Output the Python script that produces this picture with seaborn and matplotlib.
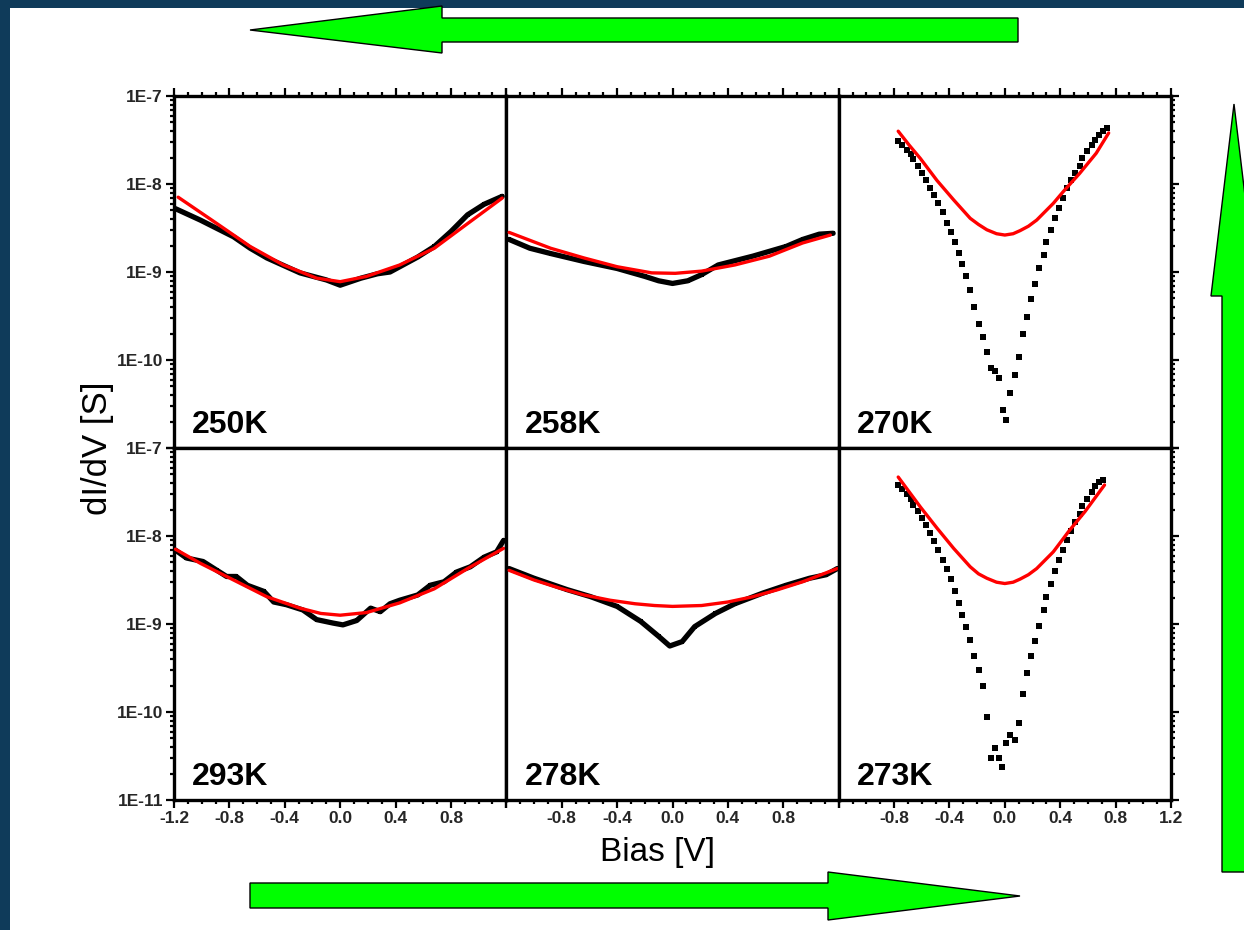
import numpy as np
import pandas as pd
import matplotlib
matplotlib.use('Agg')
import matplotlib.pyplot as plt
from matplotlib.patches import Polygon, Rectangle
from matplotlib.ticker import MultipleLocator, LogLocator, FuncFormatter, NullFormatter
import seaborn as sns

# ---- data (bias in V, log10 of dI/dV in S) ----
t250_v = [-1.19, -1.01, -0.77, -0.65, -0.53, -0.29, -0.10, 0.0, 0.15, 0.27, 0.36, 0.56, 0.68, 0.80, 0.92, 1.04, 1.17]
t250_g = [-8.28, -8.41, -8.60, -8.73, -8.84, -9.01, -9.09, -9.15, -9.07, -9.02, -9.00, -8.83, -8.71, -8.54, -8.35, -8.23, -8.14]
t250_fit_v = [-1.17, -0.89, -0.65, -0.41, -0.17, 0.0, 0.19, 0.43, 0.68, 0.92, 1.17]
t250_fit_g = [-8.15, -8.45, -8.71, -8.92, -9.07, -9.11, -9.05, -8.92, -8.73, -8.45, -8.16]

t258_v = [-1.18, -1.03, -0.88, -0.64, -0.40, -0.20, -0.10, 0.0, 0.11, 0.21, 0.33, 0.58, 0.82, 0.94, 1.06, 1.16]
t258_g = [-8.63, -8.73, -8.79, -8.88, -8.96, -9.05, -9.10, -9.13, -9.10, -9.03, -8.92, -8.82, -8.71, -8.63, -8.57, -8.56]
t258_fit_v = [-1.18, -0.88, -0.64, -0.40, -0.15, 0.02, 0.21, 0.45, 0.70, 0.94, 1.14]
t258_fit_g = [-8.55, -8.73, -8.84, -8.94, -9.01, -9.015, -8.99, -8.92, -8.82, -8.67, -8.58]

t270_v = [-0.77, -0.74, -0.71, -0.68, -0.66, -0.63, -0.60, -0.57, -0.54, -0.51,
          -0.48, -0.45, -0.42, -0.39, -0.36, -0.33, -0.31, -0.28, -0.25, -0.22,
          -0.19, -0.16, -0.13, -0.10, -0.07, -0.04, -0.01,
          0.01, 0.04, 0.07, 0.10, 0.13, 0.16, 0.19, 0.22, 0.25,
          0.28, 0.30, 0.33, 0.36, 0.39, 0.42, 0.45, 0.48, 0.51,
          0.54, 0.56, 0.59, 0.63, 0.65, 0.68, 0.71, 0.74]
t270_g = [-7.51, -7.56, -7.61, -7.66, -7.72, -7.80, -7.88, -7.96, -8.04, -8.13,
          -8.22, -8.32, -8.44, -8.54, -8.66, -8.78, -8.91, -9.05, -9.21, -9.40,
          -9.59, -9.74, -9.91, -10.09, -10.12, -10.21, -10.57,
          -10.68, -10.37, -10.17, -9.97, -9.70, -9.51, -9.31, -9.14, -8.96,
          -8.81, -8.66, -8.52, -8.39, -8.27, -8.16, -8.05, -7.96, -7.87,
          -7.79, -7.71, -7.63, -7.56, -7.50, -7.44, -7.40, -7.36]
t270_fit_v = [-0.77, -0.69, -0.61, -0.49, -0.37, -0.25, -0.19, -0.13, -0.06, 0.0, 0.06, 0.11, 0.17, 0.23, 0.35, 0.42, 0.54, 0.66, 0.75]
t270_fit_g = [-7.40, -7.56, -7.71, -7.96, -8.18, -8.39, -8.46, -8.52, -8.565, -8.58, -8.565, -8.53, -8.48, -8.41, -8.22, -8.09, -7.88, -7.65, -7.42]

t293_v = [-1.19, -1.11, -0.99, -0.89, -0.82, -0.75, -0.67, -0.55, -0.48, -0.39, -0.27, -0.17, -0.05, 0.02,
          0.12, 0.22, 0.29, 0.36, 0.43, 0.56, 0.65, 0.75, 0.84, 0.94, 1.04, 1.13, 1.18]
t293_g = [-8.16, -8.25, -8.29, -8.39, -8.46, -8.46, -8.56, -8.63, -8.75, -8.78, -8.84, -8.95, -8.99, -9.01,
          -8.96, -8.82, -8.86, -8.77, -8.73, -8.67, -8.56, -8.52, -8.41, -8.35, -8.24, -8.18, -8.05]
t293_fit_v = [-1.19, -1.01, -0.77, -0.53, -0.29, -0.14, 0.0, 0.19, 0.43, 0.68, 0.92, 1.18]
t293_fit_g = [-8.15, -8.31, -8.50, -8.69, -8.82, -8.88, -8.90, -8.87, -8.76, -8.60, -8.37, -8.14]

t278_v = [-1.18, -1.0, -0.76, -0.59, -0.40, -0.23, -0.10, -0.02, 0.07, 0.16, 0.31, 0.45, 0.65, 0.82, 0.99, 1.11, 1.19]
t278_g = [-8.37, -8.48, -8.61, -8.69, -8.80, -8.97, -9.14, -9.25, -9.20, -9.03, -8.88, -8.77, -8.65, -8.56, -8.48, -8.44, -8.37]
t278_fit_v = [-1.18, -1.0, -0.82, -0.64, -0.45, -0.27, -0.13, 0.0, 0.21, 0.40, 0.58, 0.76, 0.94, 1.19]
t278_fit_g = [-8.39, -8.50, -8.59, -8.67, -8.73, -8.77, -8.79, -8.80, -8.79, -8.75, -8.69, -8.61, -8.52, -8.37]

t273_v = [-0.77, -0.74, -0.71, -0.68, -0.66, -0.63, -0.60, -0.57, -0.54, -0.51,
          -0.48, -0.45, -0.42, -0.39, -0.36, -0.33, -0.31, -0.28, -0.25, -0.22,
          -0.19, -0.16, -0.13, -0.10, -0.07, -0.04, -0.02,
          0.01, 0.04, 0.07, 0.10, 0.13, 0.16, 0.19, 0.22, 0.25,
          0.28, 0.30, 0.33, 0.36, 0.39, 0.42, 0.45, 0.48, 0.51,
          0.54, 0.56, 0.59, 0.63, 0.65, 0.68, 0.71]
t273_g = [-7.42, -7.47, -7.52, -7.58, -7.65, -7.72, -7.80, -7.88, -7.97, -8.06,
          -8.16, -8.27, -8.38, -8.49, -8.62, -8.76, -8.90, -9.03, -9.18, -9.36,
          -9.52, -9.70, -10.06, -10.52, -10.41, -10.52, -10.62,
          -10.35, -10.26, -10.32, -10.12, -9.79, -9.56, -9.36, -9.19, -9.02,
          -8.84, -8.69, -8.54, -8.40, -8.27, -8.16, -8.04, -7.94, -7.84,
          -7.75, -7.66, -7.58, -7.50, -7.43, -7.39, -7.36]
t273_fit_v = [-0.77, -0.69, -0.61, -0.49, -0.37, -0.25, -0.19, -0.13, -0.06, 0.0, 0.06, 0.11, 0.17, 0.23, 0.35, 0.46, 0.58, 0.72]
t273_fit_g = [-7.33, -7.50, -7.67, -7.91, -8.14, -8.35, -8.43, -8.48, -8.525, -8.54, -8.525, -8.49, -8.44, -8.37, -8.18, -7.95, -7.72, -7.42]

# panel order: row, col, label, data, fit, sparse markers?
panels = [
    (0, 0, '250K', (t250_v, t250_g), (t250_fit_v, t250_fit_g), False),
    (0, 1, '258K', (t258_v, t258_g), (t258_fit_v, t258_fit_g), False),
    (0, 2, '270K', (t270_v, t270_g), (t270_fit_v, t270_fit_g), True),
    (1, 0, '293K', (t293_v, t293_g), (t293_fit_v, t293_fit_g), False),
    (1, 1, '278K', (t278_v, t278_g), (t278_fit_v, t278_fit_g), False),
    (1, 2, '273K', (t273_v, t273_g), (t273_fit_v, t273_fit_g), True),
]

sns.set_theme(style='ticks')
plt.rcParams['font.family'] = ['Liberation Sans', 'DejaVu Sans']
plt.rcParams['axes.unicode_minus'] = False

W, H = 1244, 930
fig = plt.figure(figsize=(W / 100, H / 100), dpi=100)
fig.patch.set_facecolor('#0f3b5a')
fig.add_artist(Rectangle((10 / W, 0), 1, 1 - 8 / H, transform=fig.transFigure,
                         facecolor='white', edgecolor='none', zorder=-10))


def px(x, y):
    return (x / W, 1 - y / H)


# decorative green arrows
arrows = [
    [(250, 30), (442, 6), (442, 18), (1018, 18), (1018, 42), (442, 42), (442, 53)],
    [(250, 883), (828, 883), (828, 872), (1020, 896), (828, 920), (828, 908), (250, 908)],
    [(1234, 104), (1257, 296), (1246, 296), (1246, 872), (1222, 872), (1222, 296), (1211, 296)],
]
for pts in arrows:
    fig.add_artist(Polygon([px(*p) for p in pts], closed=True, transform=fig.transFigure,
                           facecolor='#00ff00', edgecolor='black', linewidth=1.0, zorder=1))

left, right, top, bottom = 174, 1171, 96, 800
cw = (right - left) / 3
rh = (bottom - top) / 2


def yfmt(hide_low):
    def f(v, pos):
        e = int(round(np.log10(v)))
        if hide_low and e == -11:
            return ''
        return '1E%d' % e
    return FuncFormatter(f)


def xfmt(hide):
    def f(v, pos):
        if any(abs(v - h) < 1e-6 for h in hide):
            return ''
        return '%.1f' % (0.0 if abs(v) < 1e-9 else v)
    return FuncFormatter(f)


for row, col, label, data, fit, sparse in panels:
    x0 = left + col * cw
    y0 = top + (row + 1) * rh
    ax = fig.add_axes([x0 / W, 1 - y0 / H, cw / W, rh / H])
    ax.set_facecolor('white')
    ax.set_yscale('log')

    df = pd.DataFrame({'bias': data[0], 'g': 10 ** np.array(data[1])})
    dfit = pd.DataFrame({'bias': fit[0], 'g': 10 ** np.array(fit[1])})

    if sparse:
        sns.scatterplot(data=df, x='bias', y='g', ax=ax, marker='s', s=22,
                        color='black', linewidth=0, zorder=3)
    else:
        sns.lineplot(data=df, x='bias', y='g', ax=ax, color='black', lw=3.8,
                     estimator=None, sort=False, marker='s', ms=3.5,
                     markeredgewidth=0, zorder=3)
    sns.lineplot(data=dfit, x='bias', y='g', ax=ax, color='#ff0000', lw=2.4,
                 estimator=None, sort=False, zorder=4,
                 solid_joinstyle='round', solid_capstyle='round')

    ax.set_xlim(-1.2, 1.2)
    ax.set_ylim(1e-11, 1e-7)
    ax.set_xlabel('')
    ax.set_ylabel('')

    for s in ax.spines.values():
        s.set_linewidth(2.4)
        s.set_color('black')

    ax.xaxis.set_major_locator(MultipleLocator(0.4))
    ax.xaxis.set_minor_locator(MultipleLocator(0.1))
    ax.yaxis.set_major_locator(LogLocator(base=10))
    ax.yaxis.set_minor_locator(LogLocator(base=10, subs=np.arange(2, 10)))
    ax.yaxis.set_minor_formatter(NullFormatter())

    ax.tick_params(which='both', direction='out', color='black', width=1.6,
                   top=(row == 0), bottom=(row == 1),
                   left=(col == 0), right=(col == 2),
                   labeltop=False, labelbottom=(row == 1),
                   labelleft=(col == 0), labelright=False)
    ax.tick_params(which='major', length=6)
    ax.tick_params(which='minor', length=3)

    hide = []
    if col > 0:
        hide.append(-1.2)
    if col < 2:
        hide.append(1.2)
    ax.xaxis.set_major_formatter(xfmt(hide))
    ax.yaxis.set_major_formatter(yfmt(row == 0))
    for t in ax.get_xticklabels() + ax.get_yticklabels():
        t.set_fontsize(12.5)
        t.set_fontweight('bold')
    ax.tick_params(axis='x', pad=2)
    ax.tick_params(axis='y', pad=2)

    ax.text(0.055, 0.043, label, transform=ax.transAxes, fontsize=23,
            fontweight='bold', ha='left', va='baseline', color='black')

fig.text(97 / W, 1 - 448 / H, 'dI/dV [S]', rotation=90, fontsize=25,
         ha='center', va='center', color='black')
fig.text(658 / W, 1 - 852 / H, 'Bias [V]', fontsize=24,
         ha='center', va='center', color='black')

plt.savefig('out.png', dpi=100)
